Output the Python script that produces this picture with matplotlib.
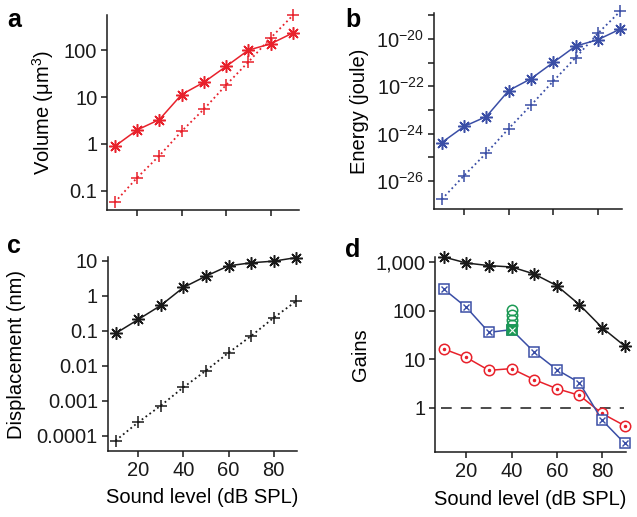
import numpy as np
import matplotlib
matplotlib.use("Agg")
import matplotlib.pyplot as plt
from matplotlib.ticker import FixedLocator, FixedFormatter, NullLocator

plt.rcParams['font.family'] = ['Liberation Sans', 'DejaVu Sans']
plt.rcParams['mathtext.fontset'] = 'custom'
plt.rcParams['mathtext.rm'] = 'Liberation Sans'
plt.rcParams['mathtext.it'] = 'Liberation Sans'

# ---------------- data ----------------
levels = [10, 20, 30, 40, 50, 60, 70, 80, 90]
xticks = [20, 40, 60, 80]

volume_meas = [0.89, 1.98, 3.3, 11.3, 20.6, 45, 100, 136, 233]
volume_pass = [0.057, 0.19, 0.56, 1.86, 5.5, 18.1, 56, 182, 552]

energy_meas_exp = [-24.38, -23.70, -23.28, -22.18, -21.68, -20.99, -20.30, -20.03, -19.58]
energy_pass_exp = [-26.78, -25.78, -24.82, -23.79, -22.80, -21.78, -20.79, -19.76, -18.83]

disp_meas = [0.084, 0.21, 0.53, 1.73, 3.65, 7.2, 8.8, 9.8, 12.4]
disp_pass = [7.2e-5, 2.4e-4, 7.2e-4, 2.4e-3, 7.2e-3, 0.0235, 0.0705, 0.235, 0.705]

gain_black = [1290, 970, 855, 802, 575, 330, 134, 45, 18.8]
gain_blue = [282, 118, 35.9, 40.8, 14.1, 6.1, 3.28, 0.556, 0.184]
gain_red = [16.3, 10.9, 5.9, 6.4, 3.8, 2.47, 1.8, 0.76, 0.425]
green_level = 40
green_circles = [105, 83, 66, 52]
green_square = 40

RED = '#e8212b'
BLUE = '#3a4ea6'
GREEN = '#1c9a55'
BLACK = '#1a1a1a'

W, H = 637, 517
fig = plt.figure(figsize=(W / 100, H / 100), dpi=100)

def box(l, r, t, b):
    return [l / W, 1 - b / H, (r - l) / W, (b - t) / H]

FS = 14.5
ast = (8, 2, 0)

def style(ax, xlim, ylim, yticks, ylabels, xlabels=True):
    ax.set_yscale('log')
    ax.set_xlim(*xlim)
    ax.set_ylim(*ylim)
    for s in ['top', 'right']:
        ax.spines[s].set_visible(False)
    for s in ['left', 'bottom']:
        ax.spines[s].set_linewidth(1.1)
        ax.spines[s].set_color(BLACK)
    ax.yaxis.set_major_locator(FixedLocator(yticks))
    ax.yaxis.set_major_formatter(FixedFormatter(ylabels))
    ax.yaxis.set_minor_locator(NullLocator())
    ax.set_xticks(xticks)
    if xlabels:
        ax.set_xticklabels([str(v) for v in xticks])
    else:
        ax.set_xticklabels([])
    ax.tick_params(direction='out', length=4, width=1.1, labelsize=FS, colors=BLACK, pad=3)

# ---- a ----
axa = fig.add_axes(box(107, 299, 15, 210))
axa.plot(levels, volume_meas, '-', color=RED, lw=1.1, marker=ast, ms=9, mew=1.1, clip_on=False)
axa.plot(levels, volume_pass, ':', color=RED, lw=1.3, marker='+', ms=9, mew=1.1, clip_on=False)
style(axa, (6.5, 92.7), (0.039, 560), [0.1, 1, 10, 100], ['0.1', '1', '10', '100'], xlabels=False)
axa.text(-0.335, 0.5, 'Volume (μm$^3$)', transform=axa.transAxes, rotation=90,
         ha='center', va='center', fontsize=FS)

# ---- b ----
axb = fig.add_axes(box(434, 622, 13, 208.7))
axb.plot(levels, [10.0 ** e for e in energy_meas_exp], '-', color=BLUE, lw=1.1, marker=ast, ms=9, mew=1.1, clip_on=False)
axb.plot(levels, [10.0 ** e for e in energy_pass_exp], ':', color=BLUE, lw=1.3, marker='+', ms=9, mew=1.1, clip_on=False)
bt = [10.0 ** e for e in range(-26, -18)]
bl = ['$10^{%d}$' % e if e % 2 == 0 else '' for e in range(-26, -18)]
style(axb, (6.5, 90.8), (10 ** -27.18, 10 ** -18.9), bt, bl, xlabels=False)
axb.text(-0.395, 0.5, 'Energy (joule)', transform=axb.transAxes, rotation=90,
         ha='center', va='center', fontsize=FS)

# ---- c ----
axc = fig.add_axes(box(107.7, 296.7, 257, 451))
axc.plot(levels, disp_meas, '-', color=BLACK, lw=1.1, marker=ast, ms=9, mew=1.1, clip_on=False)
axc.plot(levels, disp_pass, ':', color=BLACK, lw=1.3, marker='+', ms=9, mew=1.1, clip_on=False)
style(axc, (6.5, 90.2), (10 ** -4.44, 10 ** 1.11),
      [1e-4, 1e-3, 1e-2, 0.1, 1, 10], ['0.0001', '0.001', '0.01', '0.1', '1', '10'])
axc.text(-0.48, 0.5, 'Displacement (nm)', transform=axc.transAxes, rotation=90,
         ha='center', va='center', fontsize=FS)
axc.text(0.5, -0.24, 'Sound level (dB SPL)', transform=axc.transAxes,
         ha='center', va='center', fontsize=FS)

# ---- d ----
axd = fig.add_axes(box(435.3, 626, 257, 452.3))
axd.axhline(1, color=BLACK, lw=1.1, linestyle=(0, (7, 6)), xmin=0.03, xmax=0.99)
axd.plot(levels, gain_black, '-', color=BLACK, lw=1.1, marker=ast, ms=9, mew=1.1, clip_on=False)
axd.plot(levels, gain_red, '-', color=RED, lw=1.1, marker='o', ms=7.5, mfc='white', mew=1.1, clip_on=False)
axd.plot(levels, gain_red, 'none', color=RED, marker='.', ms=3, lw=0, clip_on=False)
axd.plot(levels, gain_blue, '-', color=BLUE, lw=1.1, marker='s', ms=7.5, mfc='white', mew=1.1, clip_on=False)
axd.plot(levels, gain_blue, 'none', color=BLUE, marker='x', ms=5, mew=1.0, lw=0, clip_on=False)
axd.plot([green_level] * len(green_circles), green_circles, 'none', color=GREEN,
         marker='o', ms=7.5, mfc='none', mew=1.1, lw=0)
axd.plot([green_level], [green_square], 'none', color=GREEN, marker='s', ms=7.5, mfc=GREEN, mew=1.1, lw=0)
axd.plot([green_level], [green_square], 'none', color='white', marker='x', ms=4, mew=0.8, lw=0)
style(axd, (6.3, 90.6), (0.12, 10 ** 3.11), [1, 10, 100, 1000], ['1', '10', '100', '1,000'])
axd.text(-0.39, 0.5, 'Gains', transform=axd.transAxes, rotation=90,
         ha='center', va='center', fontsize=FS)
axd.text(0.5, -0.24, 'Sound level (dB SPL)', transform=axd.transAxes,
         ha='center', va='center', fontsize=FS)

# panel letters
for lab, x, y in [('a', 14, 20), ('b', 353, 20), ('c', 14, 246), ('d', 353, 250)]:
    fig.text(x / W, 1 - y / H, lab, fontsize=18, fontweight='bold', ha='center', va='center')

fig.savefig('out.png', dpi=100)
